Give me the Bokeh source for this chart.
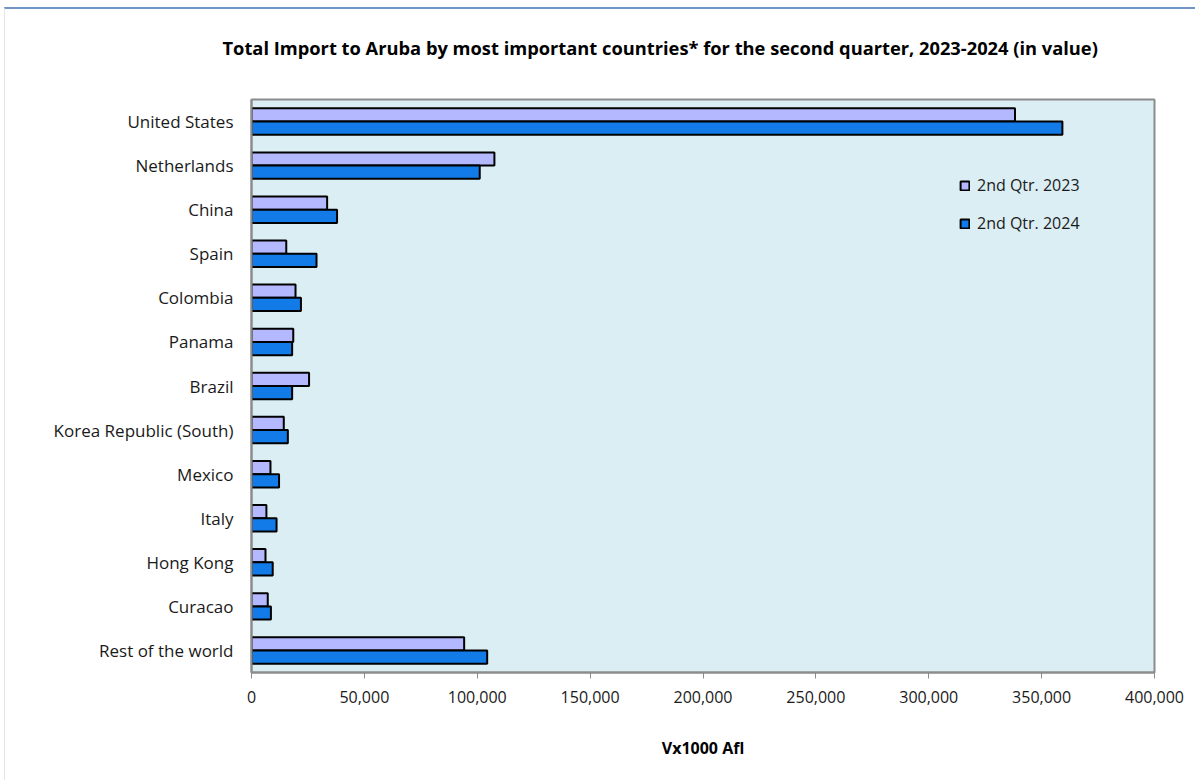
from bokeh.plotting import figure
from bokeh.models import (ColumnDataSource, FactorRange, Range1d, FixedTicker,
                          NumeralTickFormatter, Legend, LegendItem, Title)
from bokeh.transform import dodge
from bokeh.embed import file_html
from bokeh.resources import INLINE

countries = ["United States", "Netherlands", "China", "Spain", "Colombia", "Panama",
             "Brazil", "Korea Republic (South)", "Mexico", "Italy", "Hong Kong",
             "Curacao", "Rest of the world"]
q2023 = [338200, 107600, 33500, 15400, 19500, 18500, 25500, 14300, 8400, 6600, 6200, 7200, 94200]
q2024 = [359200, 101100, 37900, 28800, 21900, 18000, 18000, 16100, 12200, 11100, 9400, 8600, 104400]
series_names = ["2nd Qtr. 2023", "2nd Qtr. 2024"]
x_ticks = [0, 50000, 100000, 150000, 200000, 250000, 300000, 350000, 400000]

title_text = ("Total Import to Aruba by most important countries* for the second quarter, "
              "2023-2024 (in value)")
FONT = "Open Sans"

src = ColumnDataSource(dict(country=countries, q2023=q2023, q2024=q2024))

p = figure(width=1191, height=773, output_backend="svg", toolbar_location=None,
           title=None,
           y_range=FactorRange(factors=list(reversed(countries))),
           x_range=Range1d(0, 400000),
           min_border_left=246, min_border_right=42, min_border_top=90,
           min_border_bottom=110)

# spacer between the frame and the title (first panel above = closest to frame)
spacer = Title(text=" ", text_font=FONT, text_font_size="18px", standoff=9)
p.add_layout(spacer, "above")
main_title = Title(text=title_text, text_font=FONT, text_font_size="18.3px",
                   text_font_style="bold", text_color="#000000", align="left",
                   offset=-29, standoff=10)
p.add_layout(main_title, "above")

p.background_fill_color = "#DAEEF3"
p.border_fill_color = "#FFFFFF"
p.outline_line_color = "#8C8C8C"
p.outline_line_width = 2
p.grid.visible = False
p.styles = {"margin-top": "7px", "margin-left": "4px",
            "border-top": "2px solid #6F95C6", "border-left": "1px solid #E6E6E6"}

r1 = p.hbar(y=dodge("country", 0.15, range=p.y_range), right="q2023", left=0, height=0.3,
            source=src, fill_color="#B3B8FF", line_color="#000000", line_width=2)
r2 = p.hbar(y=dodge("country", -0.15, range=p.y_range), right="q2024", left=0, height=0.3,
            source=src, fill_color="#127BE8", line_color="#000000", line_width=2)

# x axis
xa = p.xaxis[0]
xa.ticker = FixedTicker(ticks=x_ticks)
xa.formatter = NumeralTickFormatter(format="0,0")
xa.axis_line_color = "#8C8C8C"
xa.axis_line_width = 2
xa.major_tick_line_color = "#8C8C8C"
xa.major_tick_line_width = 1
xa.major_tick_in = 0
xa.major_tick_out = 6
xa.minor_tick_line_color = None
xa.major_label_text_font = FONT
xa.major_label_text_font_size = "16px"
xa.major_label_text_color = "#1A1A1A"
xa.major_label_standoff = 12
xa.axis_label = "Vx1000 Afl"
xa.axis_label_text_font = FONT
xa.axis_label_text_font_size = "16px"
xa.axis_label_text_font_style = "bold"
xa.axis_label_text_color = "#000000"
xa.axis_label_standoff = 31

# y axis
ya = p.yaxis[0]
ya.axis_line_color = "#8C8C8C"
ya.axis_line_width = 2
ya.major_tick_line_color = None
ya.minor_tick_line_color = None
ya.major_label_text_font = FONT
ya.major_label_text_font_size = "17px"
ya.major_label_text_color = "#1A1A1A"
ya.major_label_standoff = 12

legend = Legend(items=[LegendItem(label=series_names[0], renderers=[r1]),
                       LegendItem(label=series_names[1], renderers=[r2])],
                location=(698, 428))
legend.glyph_width = 11
legend.glyph_height = 11
legend.label_height = 20
legend.spacing = 16
legend.padding = 10
legend.label_standoff = 7
legend.label_text_font = FONT
legend.label_text_font_size = "16px"
legend.label_text_color = "#1A1A1A"
legend.border_line_alpha = 0
legend.background_fill_alpha = 0
p.add_layout(legend, "center")

open("out.html", "w").write(file_html(p, INLINE))
